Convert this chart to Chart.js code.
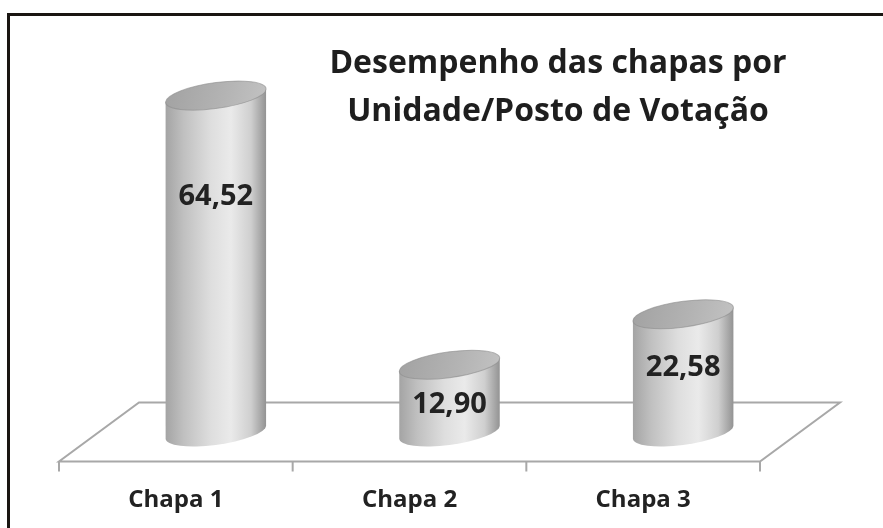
<!DOCTYPE html>
<html>
<head>
<meta charset="utf-8">
<script src="https://cdn.jsdelivr.net/npm/chart.js@4"></script>
<style>
    html, body { margin: 0; padding: 0; background: #fff; }
</style>
</head>
<body>
<canvas id="grafico-chapas" width="883" height="528"></canvas>
<script>
const categorias = ["Chapa 1", "Chapa 2", "Chapa 3"]
const percentuais = [64.52, 12.90, 22.58]
const tituloLinhas = ["Desempenho das chapas por", "Unidade/Posto de Votação"]

// altura do rótulo dentro de cada cilindro (fração da altura)
const alturaRotulo = [0.70, 0.40, 0.55]

const FONTE = "'Open Sans', 'Noto Sans', sans-serif"
const PROF_X = 40      // metade da profundidade do piso
const PROF_Y = 29.5
const ELIPSE_B = 13
const INCL = -0.13

function formatar(v) {
    return v.toFixed(2).replace(".", ",")
}

const cilindros = {
    id: "cilindros",
    beforeDatasetsDraw(chart) {
        const { ctx, chartArea: a } = chart
        const x = chart.scales.x
        const zero = chart.scales.y.getPixelForValue(0)
        const meio = (x.getPixelForValue(1) - x.getPixelForValue(0)) / 2
        const frente = zero + PROF_Y
        const fundo = zero - PROF_Y

        // piso
        ctx.save()
        ctx.beginPath()
        ctx.moveTo(a.left - PROF_X, frente)
        ctx.lineTo(a.right - PROF_X, frente)
        ctx.lineTo(a.right + PROF_X, fundo)
        ctx.lineTo(a.left + PROF_X, fundo)
        ctx.closePath()
        ctx.fillStyle = "#fff"
        ctx.fill()
        ctx.strokeStyle = "#a8a8a8"
        ctx.lineWidth = 2
        ctx.stroke()

        // marcas do eixo
        for (let i = 0; i <= categorias.length; i++) {
            const tx = x.getPixelForValue(0) - meio + i * 2 * meio - PROF_X
            ctx.beginPath()
            ctx.moveTo(tx, frente)
            ctx.lineTo(tx, frente + 10)
            ctx.stroke()
        }
        ctx.restore()
    },
    afterDatasetsDraw(chart) {
        const ctx = chart.ctx
        const meta = chart.getDatasetMeta(0)

        meta.data.forEach((el, i) => {
            const { x: cx, y: topo, base, width } = el.getProps(["x", "y", "base", "width"], true)
            const r = width / 2

            ctx.save()
            ctx.translate(cx, 0)
            ctx.transform(1, INCL, 0, 1, 0, 0)

            // corpo
            const g = ctx.createLinearGradient(-r, 0, r, 0)
            g.addColorStop(0, "#a4a4a4")
            g.addColorStop(0.18, "#c0c0c0")
            g.addColorStop(0.45, "#dedede")
            g.addColorStop(0.65, "#eaeaea")
            g.addColorStop(0.85, "#cfcfcf")
            g.addColorStop(1, "#939393")
            ctx.beginPath()
            ctx.moveTo(-r, topo)
            ctx.lineTo(-r, base)
            ctx.ellipse(0, base, r, ELIPSE_B, 0, Math.PI, 0, true)
            ctx.lineTo(r, topo)
            ctx.closePath()
            ctx.fillStyle = g
            ctx.fill()

            // tampa
            const gt = ctx.createLinearGradient(-r, topo - ELIPSE_B, r, topo + ELIPSE_B)
            gt.addColorStop(0, "#a2a2a2")
            gt.addColorStop(0.6, "#b4b4b4")
            gt.addColorStop(1, "#c2c2c2")
            ctx.beginPath()
            ctx.ellipse(0, topo, r, ELIPSE_B, 0, 0, 2 * Math.PI)
            ctx.fillStyle = gt
            ctx.fill()
            ctx.strokeStyle = "rgba(140,140,140,0.6)"
            ctx.lineWidth = 1
            ctx.stroke()
            ctx.restore()

            // rótulo
            ctx.save()
            ctx.font = "bold 29px " + FONTE
            ctx.fillStyle = "#222"
            ctx.textAlign = "center"
            ctx.textBaseline = "middle"
            ctx.fillText(formatar(percentuais[i]), cx, base - (base - topo) * alturaRotulo[i])
            ctx.restore()
        })
    },
    afterDraw(chart) {
        const ctx = chart.ctx
        ctx.save()
        // título
        ctx.font = "bold 32px " + FONTE
        ctx.fillStyle = "#1e1e1e"
        ctx.textAlign = "center"
        ctx.textBaseline = "alphabetic"
        ctx.fillText(tituloLinhas[0], 558, 73)
        ctx.fillText(tituloLinhas[1], 558, 121)

        // moldura
        ctx.fillStyle = "#1a1612"
        ctx.fillRect(7, 13, chart.width - 7, 3)
        ctx.fillRect(7, 13, 3, chart.height - 13)
        ctx.restore()
    }
}

const data = {
    labels: categorias,
    datasets: [{
        label: "Desempenho",
        data: percentuais,
        backgroundColor: "rgba(0,0,0,0)",
        borderWidth: 0,
        barPercentage: 0.43,
        categoryPercentage: 1.0,
    }],
}

const config = {
    type: "bar",
    data: data,
    options: {
        responsive: false,
        animation: false,
        devicePixelRatio: 1,
        layout: {
            padding: { left: 99, right: 83, top: 67, bottom: 0 }
        },
        plugins: {
            legend: { display: false },
            tooltip: { enabled: false },
            title: { display: false },
        },
        scales: {
            x: {
                grid: { display: false, drawTicks: false },
                border: { display: false },
                ticks: {
                    color: "#222",
                    font: { family: FONTE, size: 24, weight: "bold" },
                    padding: 13.6,
                    labelOffset: -40,
                    maxRotation: 0,
                },
            },
            y: {
                display: false,
                min: -7.67,
                max: 70,
            },
        },
    },
    plugins: [cilindros],
}

const graficoChapas = new Chart(document.querySelector("#grafico-chapas"), config)
</script>
</body>
</html>
